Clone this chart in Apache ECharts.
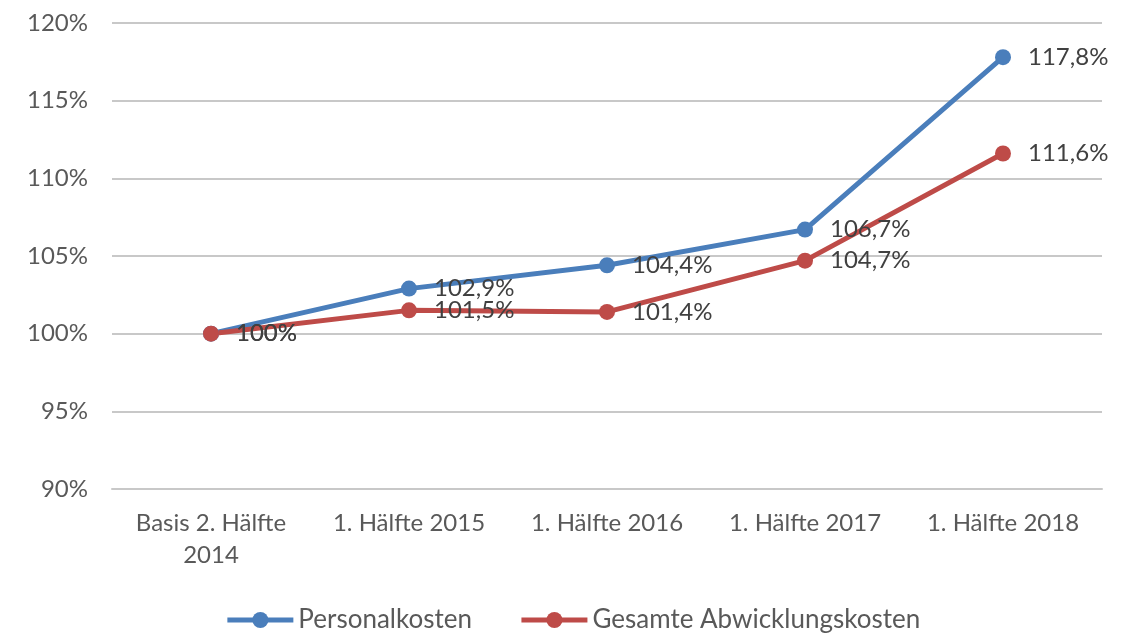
<!DOCTYPE html>
<html>
<head>
<meta charset="utf-8">
<script src="https://cdn.jsdelivr.net/npm/echarts@6/dist/echarts.min.js"></script>
<style>
  html, body { margin: 0; padding: 0; background: #fff; }
  #chart { width: 1145px; height: 638px; }
</style>
</head>
<body>
<div id="chart"></div>
<script>
var categories = ['Basis 2. Hälfte\n2014', '1. Hälfte 2015', '1. Hälfte 2016', '1. Hälfte 2017', '1. Hälfte 2018'];
var personalkosten = [100, 102.9, 104.4, 106.7, 117.8];
var abwicklungskosten = [100, 101.5, 101.4, 104.7, 111.6];
var yTicks = [90, 95, 100, 105, 110, 115, 120];

var fontFam = 'Lato, "Open Sans", sans-serif';

function fmt(p) {
    return String(p.value).replace('.', ',') + '%';
}

var myChart = echarts.init(document.getElementById('chart'));
var option = {
    animation: false,
    textStyle: { fontFamily: fontFam },
    grid: { left: 112, right: 43, top: 23, bottom: 149 },
    legend: {
        bottom: 0,
        left: 'center',
        itemWidth: 66,
        itemHeight: 20,
        itemGap: 47,
        lineStyle: { width: 5 },
        textStyle: { fontSize: 26, color: '#595959', fontFamily: fontFam },
        data: ['Personalkosten', 'Gesamte Abwicklungskosten']
    },
    xAxis: {
        type: 'category',
        data: categories,
        axisLine: { lineStyle: { color: '#c8c8c8', width: 2 } },
        axisTick: { show: false },
        axisLabel: { fontSize: 24, color: '#595959', lineHeight: 32, margin: 18, fontFamily: fontFam }
    },
    yAxis: {
        type: 'value',
        min: yTicks[0],
        max: yTicks[yTicks.length - 1],
        interval: 5,
        axisLine: { show: false },
        axisTick: { show: false },
        axisLabel: { fontSize: 24, color: '#595959', margin: 24, formatter: '{value}%', fontFamily: fontFam },
        splitLine: { lineStyle: { color: '#c8c8c8', width: 2 } }
    },
    series: [
        {
            name: 'Personalkosten',
            type: 'line',
            data: personalkosten,
            symbol: 'circle',
            symbolSize: 16,
            color: '#4a7ebb',
            lineStyle: { width: 5 },
            label: { show: true, position: 'right', distance: 17, fontSize: 24, color: '#404040', formatter: fmt, fontFamily: fontFam }
        },
        {
            name: 'Gesamte Abwicklungskosten',
            type: 'line',
            data: abwicklungskosten,
            symbol: 'circle',
            symbolSize: 16,
            color: '#be4b48',
            lineStyle: { width: 5 },
            label: { show: true, position: 'right', distance: 17, fontSize: 24, color: '#404040', formatter: fmt, fontFamily: fontFam },
            labelLayout: { hideOverlap: false }
        }
    ]
};
myChart.setOption(option);
</script>
</body>
</html>
